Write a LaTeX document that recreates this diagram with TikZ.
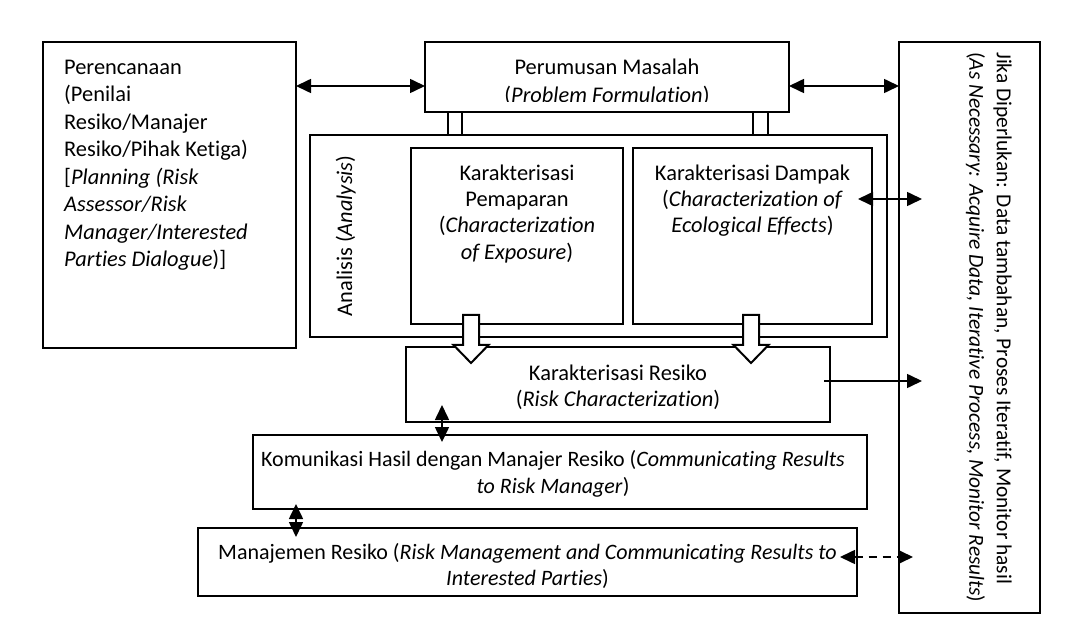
\documentclass[tikz,border=0pt]{standalone}
\usepackage{fontspec}
\setmainfont{Carlito}[Ligatures=NoCommon]
\usetikzlibrary{positioning,arrows.meta,calc}

% hollow block arrow pointing down, #1 = box anchor, #2 = offset of shaft centre
\newcommand{\drawblock}[2]{\draw[blockarrow] ($(#1)+(#2-8,-9)$) -- ++(0,30) -- ++(-9.5,0) -- ++(17.5,18) -- ++(17.5,-18) -- ++(-9.5,0) -- ++(0,-30) -- cycle;}

\begin{document}
\begin{tikzpicture}[
            x=1pt, y=-1pt,
            stagebox/.style={draw, line width=2.2pt, inner sep=0pt, outer sep=0pt, anchor=north west},
            labeltext/.style={inner sep=0pt, align=center, font=\fontsize{22.4}{27.5}\selectfont, execute at begin node=\strut},
            arrow/.style={-{Triangle[length=15pt, width=14pt]}, line width=1.6pt},
            dblarrow/.style={{Triangle[length=15pt, width=14pt]}-{Triangle[length=15pt, width=14pt]}, line width=1.6pt},
            dasharrow/.style={dblarrow, dash pattern=on 8pt off 6pt},
            blockarrow/.style={draw, line width=2pt, fill=white, line join=miter},
            link/.style={draw, line width=2pt}
        ]
            \path[use as bounding box, fill=white] (0,0) rectangle (1074,636);

            % Main stages
            \node[stagebox, minimum width=364pt, minimum height=70pt] (prob) at (425,42) {};
            \node[stagebox, minimum width=253pt, minimum height=306pt, left=129pt of prob.north west, anchor=north east] (plan) {};
            \node[stagebox, minimum width=141pt, minimum height=571pt, right=110pt of prob.north east, anchor=north west] (nec) {};
            \node[stagebox, minimum width=577pt, minimum height=202pt, below=23pt of prob.south west, xshift=-115pt, anchor=north west] (ana) {};
            \node[stagebox, minimum width=212pt, minimum height=176pt, below right=13pt and 101pt of ana.north west] (expo) {};
            \node[stagebox, minimum width=239pt, minimum height=176pt, right=10pt of expo.north east, anchor=north west] (eco) {};
            \node[stagebox, minimum width=424pt, minimum height=75pt, below right=10pt and 96pt of ana.south west] (risk) {};
            \node[stagebox, minimum width=614pt, minimum height=74pt, below left=13pt and 153pt of risk.south west, anchor=north west] (comm) {};
            \node[stagebox, minimum width=659pt, minimum height=68pt, below left=19pt and 55pt of comm.south west, anchor=north west] (mgmt) {};

            % Texts
            \node[labeltext, align=left, below right=17.6pt and 21pt of plan.north west] (plantxt) {Perencanaan\\(Penilai\\Resiko/Manajer\\Resiko/Pihak Ketiga)\\{[}\textit{Planning (Risk}\\\textit{Assessor/Risk}\\\textit{Manager/Interested}\\\textit{Parties Dialogue})]};
            \begin{scope}
                \clip (prob.north west) rectangle ($(prob.south east)+(0,-10)$);
                \node[labeltext, below=17pt of prob.north] (probtxt) {Perumusan Masalah\\(\textit{Problem Formulation})};
            \end{scope}
            \node[labeltext, rotate=90, anchor=base] (anatxt) at ($(ana.west)+(42,0)$) {Analisis (\textit{Analysis})};
            \node[labeltext, font=\fontsize{22.4}{26.3}\selectfont, below=16.6pt of expo.north] (expotxt) {Karakterisasi\\Pemaparan\\(\textit{Characterization}\\\textit{of Exposure})};
            \node[labeltext, font=\fontsize{22.4}{26.3}\selectfont, below=16.6pt of eco.north] (ecotxt) {Karakterisasi Dampak\\(\textit{Characterization of}\\\textit{Ecological Effects})};
            \node[labeltext, font=\fontsize{22.4}{25.5}\selectfont, below=18pt of risk.north] (risktxt) {Karakterisasi Resiko\\(\textit{Risk Characterization})};
            \node[labeltext, font=\fontsize{22}{27}\selectfont, below=15.6pt of comm.north, xshift=-7pt] (commtxt) {Komunikasi Hasil dengan Manajer Resiko (\textit{Communicating Results}\\\textit{to Risk Manager})};
            \node[labeltext, font=\fontsize{22}{26}\selectfont, below=15.6pt of mgmt.north] (mgmttxt) {Manajemen Resiko (\textit{Risk Management and Communicating Results to}\\\textit{Interested Parties})};
            \node[labeltext, font=\fontsize{21.4}{27.5}\selectfont, align=left, rotate=-90, anchor=north west] (nectxt) at ($(nec.north west)+(113,10)$) {Jika Diperlukan: Data tambahan, Proses Iteratif, Monitor hasil\\(\textit{As Necessary: Acquire Data, Iterative Process, Monitor Results})};

            % Arrows along the top
            \coordinate (p1) at ([yshift=-9pt]prob.west);
            \coordinate (p2) at ([yshift=-9pt]prob.east);
            \draw[dblarrow] (plan.east |- p1) -- (p1);
            \draw[dblarrow] (p2) -- (nec.west |- p2);

            % Links from problem formulation to analysis
            \draw[link] ($(prob.south west)+(23,0)$) rectangle ($(ana.north west)+(152,0)$);
            \draw[link] ($(prob.south west)+(328,0)$) rectangle ($(ana.north west)+(458,0)$);

            % Arrows to the side box
            \coordinate (e1) at ([xshift=-14pt, yshift=37pt]eco.east);
            \draw[dblarrow] (e1) -- ($(nec.west |- e1)+(23,0)$);
            \coordinate (r1) at ([xshift=-6pt, yshift=3.5pt]risk.east);
            \draw[arrow] (r1) -- ($(nec.west |- r1)+(23,0)$);
            \coordinate (m1) at ([xshift=-17pt, yshift=5pt]mgmt.east);
            \draw[dasharrow] (m1) -- ($(nec.west |- m1)+(14,0)$);

            % Arrows between lower stages
            \coordinate (r2) at ($(risk.south west)+(36,-17)$);
            \draw[dblarrow] (r2) -- ($(comm.north -| r2)+(0,7)$);
            \coordinate (c2) at ($(comm.south west)+(43,-5)$);
            \draw[dblarrow] (c2) -- ($(mgmt.north -| c2)+(0,9)$);

            % Block arrows into risk characterization
            \drawblock{expo.south west}{60}
            \drawblock{eco.south west}{118}

        \end{tikzpicture}
\end{document}
